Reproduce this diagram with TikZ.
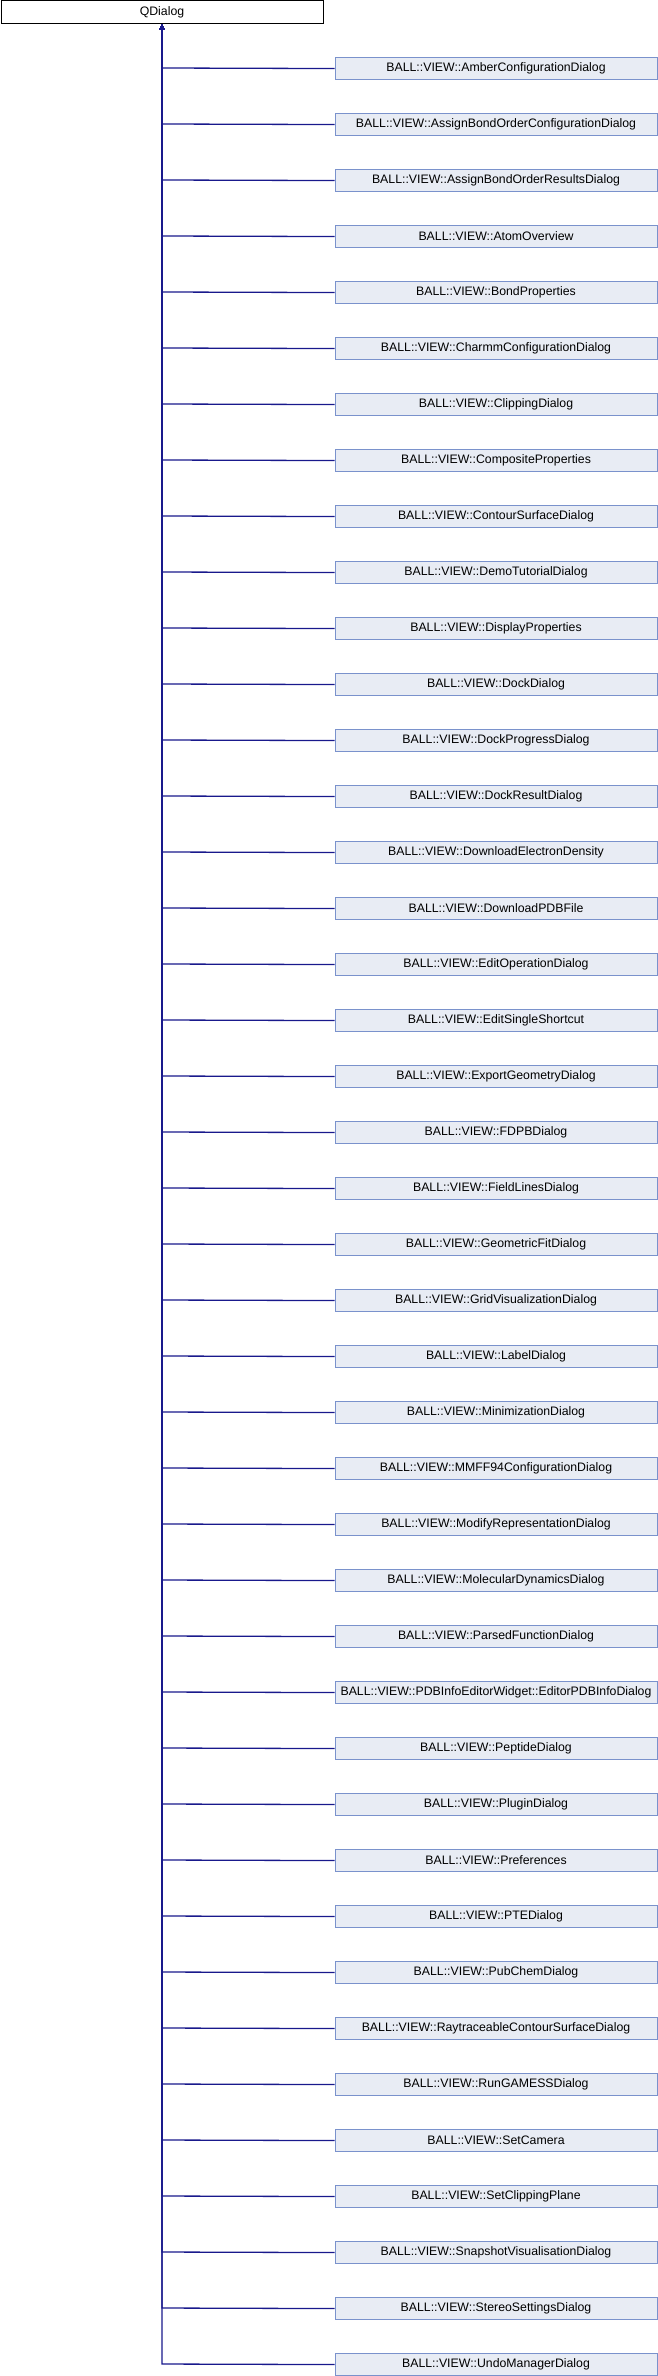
\documentclass[tikz,border=0pt]{standalone}
\usepackage{fontspec}
\setmainfont{Liberation Sans}
\usetikzlibrary{arrows.meta}
\definecolor{edgeblue}{RGB}{25,25,140}
\definecolor{boxfill}{RGB}{232,236,244}
\definecolor{boxline}{RGB}{122,146,204}
\begin{document}
\begin{tikzpicture}[x=1pt,y=1pt,
  basebox/.style={draw=black, fill=white, line width=1pt, minimum width=322pt, minimum height=22.5pt, inner sep=0pt, anchor=north west, font=\fontsize{12.3}{14}\selectfont},
  childbox/.style={draw=boxline, fill=boxfill, line width=1pt, minimum width=322pt, minimum height=22.5pt, inner sep=0pt, anchor=north west, font=\fontsize{12.3}{14}\selectfont},
  edge/.style={draw=edgeblue, line width=1.3pt, -{Triangle[length=6pt,width=5pt]}}]
\useasboundingbox (0,0) rectangle (658,-2376);
\node[basebox] (q) at (0.5,-0.5) {QDialog};
\foreach \nm [count=\i from 0] in {
AmberConfigurationDialog,
AssignBondOrderConfigurationDialog,
AssignBondOrderResultsDialog,
AtomOverview,
BondProperties,
CharmmConfigurationDialog,
ClippingDialog,
CompositeProperties,
ContourSurfaceDialog,
DemoTutorialDialog,
DisplayProperties,
DockDialog,
DockProgressDialog,
DockResultDialog,
DownloadElectronDensity,
DownloadPDBFile,
EditOperationDialog,
EditSingleShortcut,
ExportGeometryDialog,
FDPBDialog,
FieldLinesDialog,
GeometricFitDialog,
GridVisualizationDialog,
LabelDialog,
MinimizationDialog,
MMFF94ConfigurationDialog,
ModifyRepresentationDialog,
MolecularDynamicsDialog,
ParsedFunctionDialog,
PDBInfoEditorWidget::EditorPDBInfoDialog,
PeptideDialog,
PluginDialog,
Preferences,
PTEDialog,
PubChemDialog,
RaytraceableContourSurfaceDialog,
RunGAMESSDialog,
SetCamera,
SetClippingPlane,
SnapshotVisualisationDialog,
StereoSettingsDialog,
UndoManagerDialog}
{
  \node[childbox] (c\i) at (334.5,{-56.8-56*\i}) {BALL::VIEW::\nm};
  \coordinate (t\i) at (162,{-68-56*\i});
  \draw[edge] (c\i.west) -- (t\i) -- (t\i |- q.south);
}
\end{tikzpicture}
\end{document}
